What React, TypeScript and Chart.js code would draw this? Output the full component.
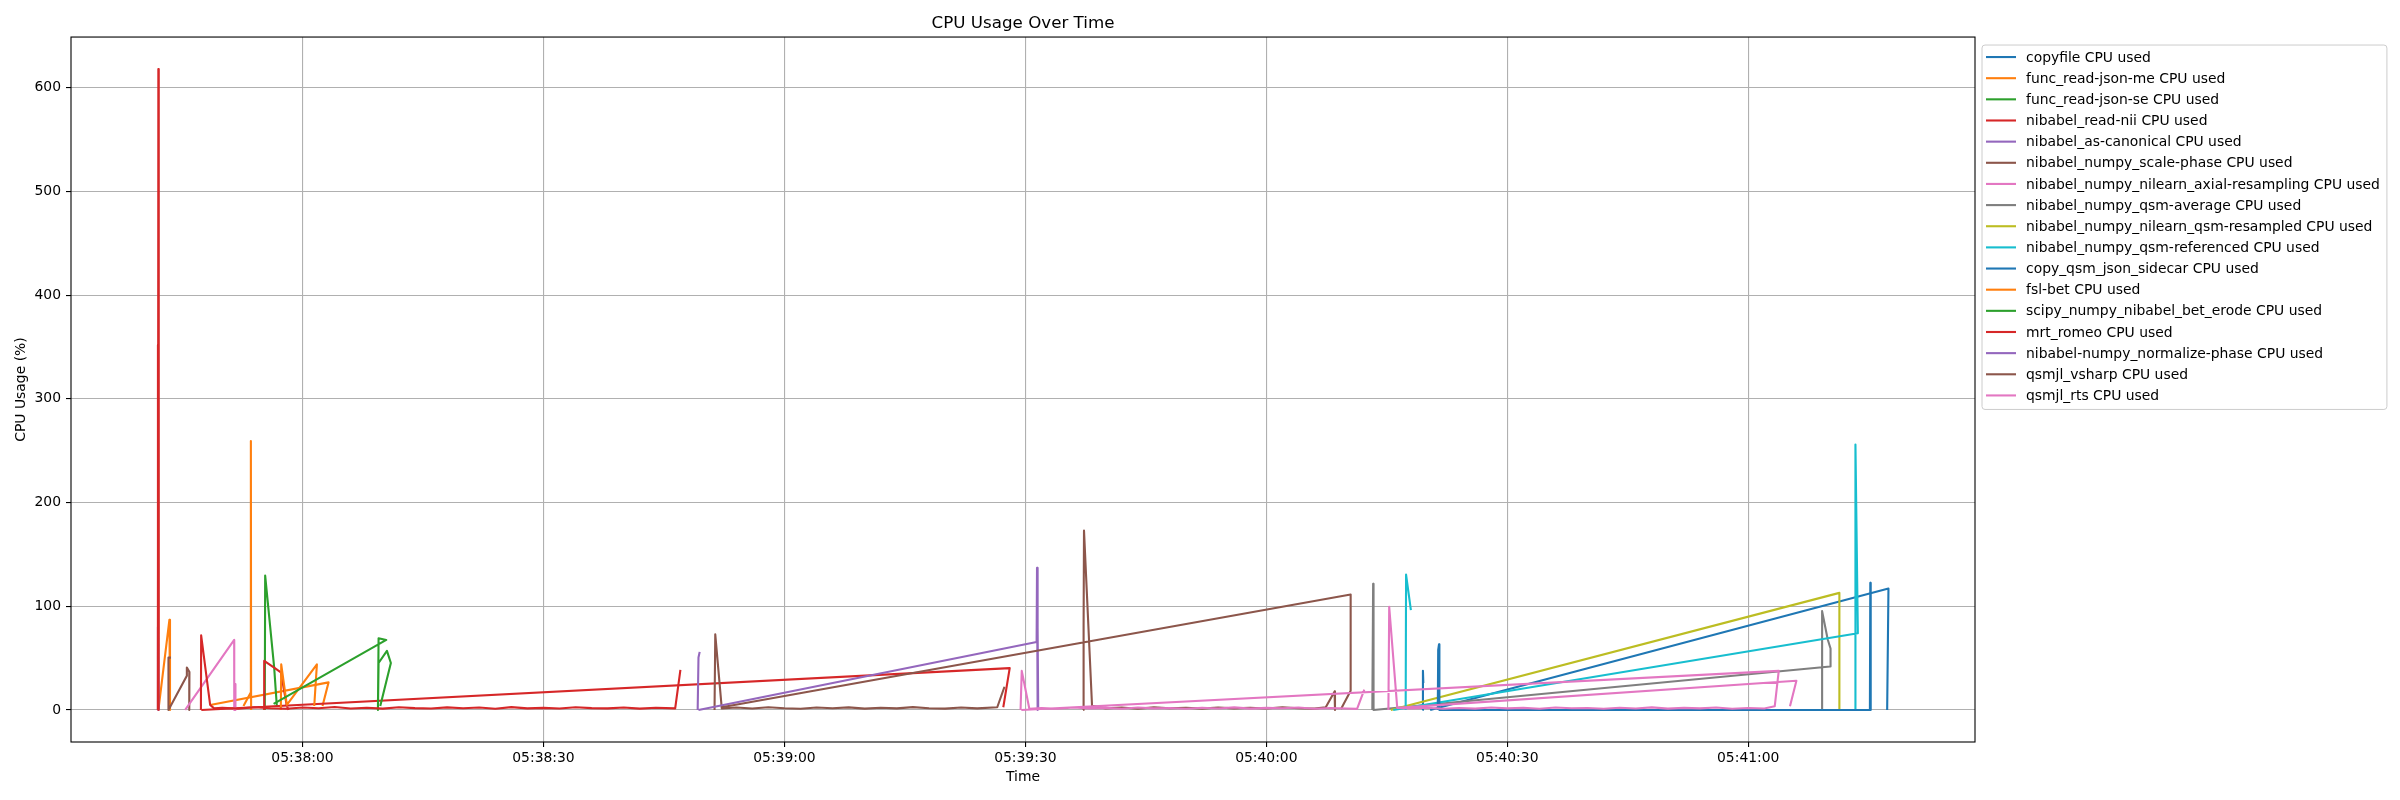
import { useEffect, useRef } from "react"
import { Chart, registerables } from "chart.js"

Chart.register(...registerables)

// every sample time below is in seconds after this clock time
const BASE_CLOCK = "05:37:00"

const xTickLabels = ["05:38:00", "05:38:30", "05:39:00", "05:39:30", "05:40:00", "05:40:30", "05:41:00"]
const yTickValues = [0, 100, 200, 300, 400, 500, 600]

type Sample = [number, number] | null

const seriesNames = [
  "copyfile CPU used",
  "func_read-json-me CPU used",
  "func_read-json-se CPU used",
  "nibabel_read-nii CPU used",
  "nibabel_as-canonical CPU used",
  "nibabel_numpy_scale-phase CPU used",
  "nibabel_numpy_nilearn_axial-resampling CPU used",
  "nibabel_numpy_qsm-average CPU used",
  "nibabel_numpy_nilearn_qsm-resampled CPU used",
  "nibabel_numpy_qsm-referenced CPU used",
  "copy_qsm_json_sidecar CPU used",
  "fsl-bet CPU used",
  "scipy_numpy_nibabel_bet_erode CPU used",
  "mrt_romeo CPU used",
  "nibabel-numpy_normalize-phase CPU used",
  "qsmjl_vsharp CPU used",
  "qsmjl_rts CPU used",
]

// [seconds, CPU %], null = break in the line
const copyfile: Sample[] = [[199.45, 0], [199.5, 37.7], [199.55, 26], null, [200.4, 0], [257.46, 117.1], [257.3, 0]]

const funcReadJsonMe: Sample[] = [[42.06, 0], [43.43, 87], [43.5, 0], null, [48.5, 4.8], [63.24, 26.6], [62.49, 3.8]]

const funcReadJsonSe: Sample[] = [[55.3, 0], [55.35, 129.6], [56.47, 41], [56.8, 4]]

const nibabelReadNii: Sample[] = [
  [42.0, 0], [42.05, 618], [42.1, 0], null,
  [55.23, 0], [55.23, 47.3], [56.6, 40], [57.3, 36.2], [58.05, 3.8], [58.26, 0], null,
  [47.4, 0], [148.05, 40.3], [147.25, 2.6],
]

const nibabelAsCanonical: Sample[] = [[41.95, 0], [42.0, 80], [42.05, 0]]

const nibabelScalePhase: Sample[] = [
  [43.61, 50.5], [43.31, 50.5], [43.31, 0], [45.6, 32.9], [45.6, 41], [45.92, 36.5], [45.9, 0], null,
  [111.3, 0], [111.39, 72.9], [112.2, 1.5], [114, 2.3], [116, 1.4], [118, 2.6], [120, 1.7], [122, 1.2],
  [124, 2.4], [126, 1.6], [128, 2.5], [130, 1.3], [132, 2.2], [134, 1.5], [136, 2.7], [138, 1.6],
  [140, 1.3], [142, 2.3], [144, 1.5], [146.5, 2.6], [147.4, 22.4],
]

const axialResampling: Sample[] = [[45.39, 0], [51.49, 67.5], [51.5, 0], [51.62, 25], [51.65, 0]]

const qsmAverage: Sample[] = [
  [193.2, 0], [193.3, 121.6], [193.35, 0], [250.2, 41.9], [250.25, 59.2], [249.9, 68], [249.2, 95.3], [249.2, 0],
]

const qsmResampled: Sample[] = [[195.5, 0], [251.35, 112.9], [251.35, 0]]

const qsmReferenced: Sample[] = [
  [197.35, 0], [197.4, 130.5], [198.0, 96.3], null,
  [195.8, 0], [253.65, 74], [253.35, 256], [253.35, 0],
]

const copyQsmJsonSidecar: Sample[] = [
  [201.35, 0], [201.4, 58], [201.5, 63.3], [201.55, 0], [255.15, 0], [255.2, 122.5], [255.25, 0],
]

const fslBet: Sample[] = [
  [52.65, 3.8], [53.57, 17], [53.57, 259.4], [53.6, 0], null,
  [57.3, 0], [57.35, 44], [58.05, 5], [61.79, 44], [61.46, 3.8],
]

const betErode: Sample[] = [
  [56.4, 5.8], [70.43, 67.5], [69.47, 69.1], [69.39, 0], [69.47, 45.3], [70.51, 56.9], [71.0, 45.3], [69.68, 3.8],
]

const mrtRomeo: Sample[] = [
  [41.97, 0], [42.0, 352], [42.03, 0], null,
  [47.35, 0], [47.38, 72], [48.5, 4.8], [49, 1.5], [50, 2.2], [52, 1.3], [54, 2.6], [56, 1.7], [58, 1.2],
  [60, 2.4], [62, 1.6], [64, 2.8], [66, 1.4], [68, 2.1], [70, 1.3], [72, 2.6], [74, 1.8], [76, 1.4],
  [78, 2.5], [80, 1.6], [82, 2.3], [84, 1.2], [86, 2.7], [88, 1.5], [90, 2.0], [92, 1.4], [94, 2.6],
  [96, 1.8], [98, 1.5], [100, 2.4], [102, 1.3], [104, 2.1], [106.4, 1.5], [107.05, 38.7],
]

const normalizePhase: Sample[] = [
  [109.2, 0], [109.3, 50.6], [109.45, 56], null,
  [109.3, 0], [151.4, 65.6], [151.45, 137], [151.5, 0], [151.55, 80], [151.6, 0],
]

const qsmjlVsharp: Sample[] = [
  [157.2, 0], [157.25, 81], [157.3, 173], [158.3, 4], [160, 1.5], [162, 2.3], [164, 1.2], [166, 2.5],
  [168, 1.6], [170, 2.1], [172, 1.3], [174, 2.4], [176, 1.5], [178, 2.2], [180, 1.4], [182, 2.6],
  [184, 1.7], [186, 1.3], [187.4, 2.6], [188.5, 17.9], [188.55, 0], null,
  [112.2, 2.6], [190.5, 111.3], [190.5, 18.5], [189.3, 1],
]

const qsmjlRts: Sample[] = [
  [149.4, 0], [149.55, 37.7], [150.5, 1], [152, 1.8], [154, 1.1], [156, 2.3], [158, 1.4], [160, 2.0],
  [162, 1.2], [164, 2.4], [166, 1.5], [168, 1.9], [170, 1.1], [172, 2.2], [174, 1.4], [176, 2.5],
  [178, 1.3], [180, 2.0], [182, 1.6], [184, 2.3], [186, 1.2], [188, 1.9], [190, 1.4], [191.3, 1],
  [192.2, 19.5], null,
  [195.2, 0], [195.3, 99.5], [196.3, 2], [198, 1.4], [200, 2.2], [202, 1.1], [204, 1.9], [206, 1.3],
  [208, 2.4], [210, 1.5], [212, 2.0], [214, 1.2], [216, 2.3], [218, 1.6], [220, 1.9], [222, 1.1],
  [224, 2.2], [226, 1.4], [228, 2.5], [230, 1.3], [232, 2.0], [234, 1.5], [236, 2.3], [238, 1.2],
  [240, 1.9], [242, 1.4], [243.3, 3.5], [243.8, 37.7], [149.5, 0], null,
  [196.3, 2], [246.0, 28.2], [245.2, 3.5],
]

const seriesData: Sample[][] = [
  copyfile, funcReadJsonMe, funcReadJsonSe, nibabelReadNii, nibabelAsCanonical, nibabelScalePhase,
  axialResampling, qsmAverage, qsmResampled, qsmReferenced, copyQsmJsonSidecar, fslBet, betErode,
  mrtRomeo, normalizePhase, qsmjlVsharp, qsmjlRts,
]

const palette = ["#1f77b4", "#ff7f0e", "#2ca02c", "#d62728", "#9467bd", "#8c564b", "#e377c2", "#7f7f7f", "#bcbd22", "#17becf"]

const FONT = "DejaVu Sans"

function clockToSeconds(s: string) {
  const [h, m, sec] = s.split(":").map(Number)
  return h * 3600 + m * 60 + sec
}

function secondsToClock(sec: number) {
  const total = Math.round(clockToSeconds(BASE_CLOCK) + sec)
  const pad = (n: number) => String(n).padStart(2, "0")
  return `${pad(Math.floor(total / 3600))}:${pad(Math.floor(total / 60) % 60)}:${pad(total % 60)}`
}

// draws the four spines and a matplotlib-like legend box outside the axes
const spinesAndLegend = {
  id: "spinesAndLegend",
  afterDraw(chart: any) {
    const { ctx, chartArea } = chart
    ctx.save()
    ctx.strokeStyle = "#000"
    ctx.lineWidth = 1.1
    ctx.strokeRect(chartArea.left, chartArea.top, chartArea.right - chartArea.left, chartArea.bottom - chartArea.top)

    ctx.font = `13.9px "${FONT}"`
    const labels: string[] = chart.data.datasets.map((d: any) => d.label)
    const textW = Math.max(...labels.map((l) => ctx.measureText(l).width))
    const left = chartArea.right + 7
    const top = chartArea.top + 8
    const rowH = 21.15
    const w = 44 + textW + 7
    const h = 12 + rowH * (labels.length - 1) + 14
    ctx.beginPath()
    ctx.roundRect(left, top, w, h, 3)
    ctx.fillStyle = "rgba(255,255,255,0.8)"
    ctx.fill()
    ctx.strokeStyle = "#cccccc"
    ctx.lineWidth = 1
    ctx.stroke()

    ctx.textBaseline = "middle"
    ctx.textAlign = "left"
    labels.forEach((label, i) => {
      const y = top + 12 + i * rowH
      ctx.strokeStyle = chart.data.datasets[i].borderColor
      ctx.lineWidth = 2.1
      ctx.beginPath()
      ctx.moveTo(left + 4, y)
      ctx.lineTo(left + 34, y)
      ctx.stroke()
      ctx.fillStyle = "#000"
      ctx.fillText(label, left + 44, y + 1)
    })
    ctx.restore()
  },
}

export default function App() {
  const chartRef = useRef<HTMLCanvasElement>(null)
  const chartInstance = useRef<Chart | null>(null)

  useEffect(() => {
    if (!chartRef.current) return
    if (chartInstance.current) chartInstance.current.destroy()

    const ctx = chartRef.current.getContext("2d")
    if (!ctx) return

    // matplotlib-style 5% margins around the data
    const all = seriesData.flat().filter((p): p is [number, number] => p !== null)
    const xs = all.map((p) => p[0])
    const ys = all.map((p) => p[1])
    const xMin = Math.min(...xs), xMax = Math.max(...xs)
    const yMin = Math.min(...ys), yMax = Math.max(...ys)
    const xPad = (xMax - xMin) * 0.05
    const yPad = (yMax - yMin) * 0.05
    const xTicks = xTickLabels.map((l) => clockToSeconds(l) - clockToSeconds(BASE_CLOCK))

    const datasets = seriesData.map((series, i) => ({
      label: seriesNames[i],
      data: series.map((p, j) =>
        p ? { x: p[0], y: p[1] } : { x: (series[j - 1] as [number, number])[0], y: null }
      ),
      borderColor: palette[i % palette.length],
      backgroundColor: palette[i % palette.length],
      borderWidth: 2.1,
      borderJoinStyle: "round" as const,
      pointRadius: 0,
      tension: 0,
      spanGaps: false,
      order: seriesData.length - i,
    }))

    chartInstance.current = new Chart(ctx, {
      type: "line",
      data: { datasets },
      options: {
        responsive: false,
        animation: false,
        devicePixelRatio: 1,
        events: [],
        layout: { padding: { left: 0, top: 0, right: 425, bottom: 0 } },
        scales: {
          x: {
            type: "linear",
            min: xMin - xPad,
            max: xMax + xPad,
            afterBuildTicks: (scale: any) => {
              scale.ticks = xTicks.map((value) => ({ value }))
            },
            afterFit: (scale: any) => {
              scale.height = 58
            },
            ticks: {
              autoSkip: false,
              maxRotation: 0,
              padding: 3,
              color: "#000",
              font: { family: FONT, size: 13.9 },
              callback: (v: any) => secondsToClock(Number(v)),
            },
            grid: { color: "#b0b0b0", lineWidth: 1.1, tickLength: 5, tickColor: "#000", tickWidth: 1.1 },
            border: { display: false },
            title: {
              display: true,
              text: "Time",
              color: "#000",
              font: { family: FONT, size: 13.9 },
              padding: { top: 0, bottom: 14 },
            },
          },
          y: {
            type: "linear",
            min: yMin - yPad,
            max: yMax + yPad,
            afterBuildTicks: (scale: any) => {
              scale.ticks = yTickValues.map((value) => ({ value }))
            },
            afterFit: (scale: any) => {
              scale.width = 71
            },
            ticks: {
              padding: 5,
              color: "#000",
              font: { family: FONT, size: 13.9 },
              callback: (v: any) => String(v),
            },
            grid: { color: "#b0b0b0", lineWidth: 1.1, tickLength: 5, tickColor: "#000", tickWidth: 1.1 },
            border: { display: false },
            title: {
              display: true,
              text: "CPU Usage (%)",
              color: "#000",
              font: { family: FONT, size: 13.9 },
              padding: { top: 13, bottom: 0 },
            },
          },
        },
        plugins: {
          legend: { display: false },
          tooltip: { enabled: false },
          title: {
            display: true,
            text: "CPU Usage Over Time",
            fullSize: false,
            color: "#000",
            font: { family: FONT, size: 16.7, weight: "normal" },
            padding: { top: 14, bottom: 3 },
          },
        },
      },
      plugins: [spinesAndLegend],
    })

    return () => {
      if (chartInstance.current) {
        chartInstance.current.destroy()
        chartInstance.current = null
      }
    }
  }, [])

  return (
    <div style={{ position: "fixed", left: 0, top: 0, width: 2400, height: 800, background: "#fff" }}>
      <canvas ref={chartRef} width={2400} height={800} style={{ width: 2400, height: 800 }} />
    </div>
  )
}
